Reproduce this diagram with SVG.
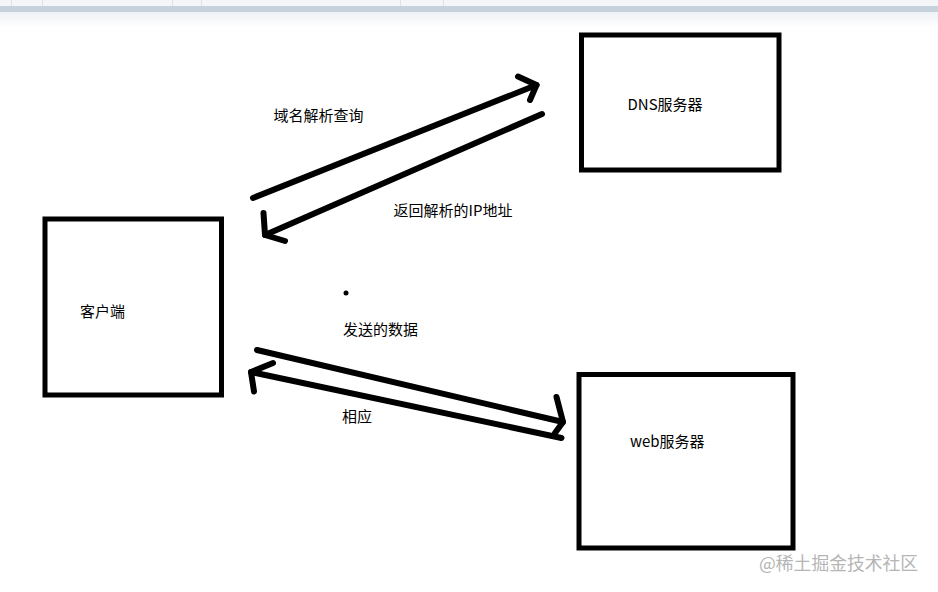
<svg xmlns="http://www.w3.org/2000/svg" width="938" height="592" viewBox="0 0 938 592">
  <style>
    .box { fill: #ffffff; stroke: #000000; stroke-width: 5; }
    .lbl { font-family: "Microsoft YaHei", "Noto Sans CJK SC", "Noto Sans", sans-serif; font-size: 15px; fill: #000000; }
    .wire { fill: none; stroke: #000000; stroke-width: 6; stroke-linecap: round; stroke-linejoin: round; }
    .wm { font-family: "Noto Sans CJK SC", "Noto Sans", sans-serif; font-size: 17.8px; fill: #b5b5b5; }
    .div { stroke: #dde2e7; stroke-width: 1; }
  </style>
  <defs>
    <linearGradient id="fade" x1="0" y1="0" x2="0" y2="1">
      <stop offset="0" stop-color="#eef1f5"/>
      <stop offset="1" stop-color="#ffffff"/>
    </linearGradient>
  </defs>
  <rect x="0" y="0" width="938" height="592" fill="#ffffff"/>
  <g id="topbar">
    <rect x="0" y="0" width="938" height="6" fill="#f3f5f7"/>
    <line class="div" x1="11.5" y1="0" x2="11.5" y2="6"/>
    <line class="div" x1="42.5" y1="0" x2="42.5" y2="6"/>
    <line class="div" x1="172.5" y1="0" x2="172.5" y2="6"/>
    <line class="div" x1="201.5" y1="0" x2="201.5" y2="6"/>
    <line class="div" x1="400.5" y1="0" x2="400.5" y2="6"/>
    <line class="div" x1="443.5" y1="0" x2="443.5" y2="6"/>
    <rect x="0" y="6" width="938" height="6" fill="#c7d1dc"/>
    <rect x="0" y="12" width="938" height="16" fill="url(#fade)"/>
  </g>

  <g id="client">
    <rect class="box" x="45" y="219" width="176.5" height="176"/>
    <text class="lbl" x="80" y="317">客户端</text>
  </g>
  <g id="dns">
    <rect class="box" x="581.5" y="35" width="197.5" height="135"/>
    <text class="lbl" x="627.5" y="110">DNS服务器</text>
  </g>
  <g id="web">
    <rect class="box" x="579" y="374.5" width="214" height="173.5"/>
    <text class="lbl" x="630" y="447">web服务器</text>
  </g>

  <g id="connectors">
    <polyline class="wire" points="253,198 536.5,85"/>
    <polyline class="wire" points="518,76.5 536.5,85 530,100"/>
    <polyline class="wire" points="542,114 265,235"/>
    <polyline class="wire" points="263.5,213 265,235 285,241"/>
    <polyline class="wire" points="257,350 563,422"/>
    <polyline class="wire" points="556.5,397 563,422 555,433"/>
    <polyline class="wire" points="561.5,438 251,372"/>
    <polyline class="wire" points="273,363 251,372 254,391.5"/>
  </g>

  <g id="labels">
    <text class="lbl" x="273.5" y="121">域名解析查询</text>
    <text class="lbl" x="393.5" y="216">返回解析的IP地址</text>
    <circle cx="346" cy="293" r="2.5" fill="#000000"/>
    <text class="lbl" x="343" y="335">发送的数据</text>
    <text class="lbl" x="342" y="422">相应</text>
  </g>

  <text class="wm" x="759" y="570">@稀土掘金技术社区</text>
</svg>
